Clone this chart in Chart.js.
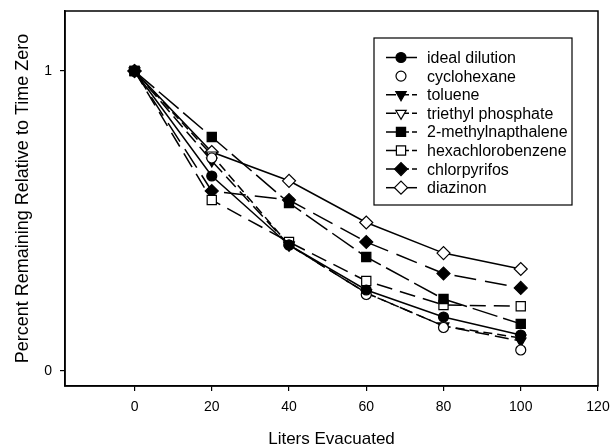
<!DOCTYPE html>
<html>
<head>
<meta charset="utf-8">
<script src="https://cdn.jsdelivr.net/npm/chart.js"></script>
<style>
html, body { margin: 0; padding: 0; background: #ffffff; }
#wrap { width: 611px; height: 447px; position: relative; }
</style>
</head>
<body>
<div id="wrap"><canvas id="chart" width="611" height="447"></canvas></div>
<script>
// Liters evacuated vs. fraction remaining
const liters = [0, 20, 40, 60, 80, 100];
const xTicks = [0, 20, 40, 60, 80, 100, 120];
const yTicks = [0, 1];

const seriesNames = ['ideal dilution', 'cyclohexane', 'toluene', 'triethyl phosphate',
    '2-methylnapthalene', 'hexachlorobenzene', 'chlorpyrifos', 'diazinon'];

const idealDilution = [1, 0.65, 0.42, 0.27, 0.18, 0.12];
const cyclohexane = [1, 0.71, 0.42, 0.255, 0.145, 0.07];
const toluene = [1, 0.70, 0.42, 0.26, 0.15, 0.10];
const triethylPhosphate = [1, 0.72, 0.42, 0.26, 0.15, 0.11];
const methylnapthalene = [1, 0.78, 0.56, 0.38, 0.24, 0.157];
const hexachlorobenzene = [1, 0.57, 0.43, 0.30, 0.22, 0.216];
const chlorpyrifos = [1, 0.60, 0.57, 0.43, 0.325, 0.277];
const diazinon = [1, 0.73, 0.634, 0.495, 0.393, 0.34];

const FONT = '"Liberation Sans", Arial, sans-serif';

// marker + line style per series
const styles = [
    { values: idealDilution, point: 'circle', fill: true, rot: 0, r: 5, dash: [], line: true },
    { values: cyclohexane, point: 'circle', fill: false, rot: 0, r: 5, dash: [], line: false },
    { values: toluene, point: 'triangle', fill: true, rot: 180, r: 6, dash: [14, 6], line: true },
    { values: triethylPhosphate, point: 'triangle', fill: false, rot: 180, r: 6, dash: [9, 5], line: true },
    { values: methylnapthalene, point: 'rect', fill: true, rot: 0, r: 6.5, dash: [26, 6], line: true },
    { values: hexachlorobenzene, point: 'rect', fill: false, rot: 0, r: 6.5, dash: [16, 8], line: true },
    { values: chlorpyrifos, point: 'rectRot', fill: true, rot: 0, r: 6.5, dash: [22, 9], line: true },
    { values: diazinon, point: 'rectRot', fill: false, rot: 0, r: 6.5, dash: [], line: true }
];

const datasets = styles.map((s, i) => ({
    label: seriesNames[i],
    data: liters.map((x, j) => ({ x: x, y: s.values[j] })),
    showLine: s.line,
    borderColor: '#000000',
    borderWidth: 1.5,
    borderDash: s.dash,
    pointStyle: s.point,
    pointRotation: s.rot,
    pointRadius: s.r,
    pointBorderWidth: 1.2,
    pointBorderColor: '#000000',
    pointBackgroundColor: s.fill ? '#000000' : '#ffffff',
    tension: 0
}));

// frame around plot area (top and right edges)
const framePlugin = {
    id: 'frame',
    afterDraw(chart) {
        const a = chart.chartArea;
        const ctx = chart.ctx;
        ctx.save();
        ctx.strokeStyle = '#000000';
        ctx.lineWidth = 1.5;
        ctx.strokeRect(a.left, a.top, a.right - a.left, a.bottom - a.top);
        ctx.restore();
    }
};

function drawMarker(ctx, s, x, y) {
    ctx.save();
    ctx.setLineDash([]);
    ctx.lineWidth = 1.2;
    ctx.strokeStyle = '#000000';
    ctx.fillStyle = s.fill ? '#000000' : '#ffffff';
    Chart.helpers.drawPoint(ctx, { pointStyle: s.point, rotation: s.rot, radius: s.r, borderWidth: 1.2 }, x, y);
    ctx.restore();
}

// legend box inside the plot
const legendPlugin = {
    id: 'insideLegend',
    afterDraw(chart) {
        const ctx = chart.ctx;
        const left = 374, top = 38, width = 198, height = 167;
        ctx.save();
        ctx.fillStyle = '#ffffff';
        ctx.fillRect(left, top, width, height);
        ctx.strokeStyle = '#000000';
        ctx.lineWidth = 1.2;
        ctx.strokeRect(left, top, width, height);
        ctx.font = '16px ' + FONT;
        ctx.textBaseline = 'middle';
        styles.forEach((s, i) => {
            const y = top + 19.5 + i * 18.6;
            if (s.line) {
                ctx.beginPath();
                ctx.setLineDash(s.dash.length ? [10, 3] : []);
                ctx.lineWidth = 1.5;
                ctx.moveTo(left + 12, y);
                ctx.lineTo(left + 43, y);
                ctx.stroke();
            }
            drawMarker(ctx, s, left + 27, y);
            ctx.fillStyle = '#000000';
            ctx.fillText(seriesNames[i], left + 53, y + 1);
        });
        ctx.restore();
    }
};

new Chart(document.getElementById('chart'), {
    type: 'scatter',
    data: { datasets: datasets },
    options: {
        responsive: false,
        animation: false,
        layout: { padding: { top: 11, right: 13, left: 0, bottom: 0 } },
        plugins: {
            legend: { display: false },
            tooltip: { enabled: false }
        },
        scales: {
            x: {
                type: 'linear',
                min: -18,
                max: 120,
                afterBuildTicks: (axis) => { axis.ticks = xTicks.map(v => ({ value: v })); },
                afterFit: (axis) => {
                    axis.height = 61;
                    axis.paddingLeft = 0;
                    axis.paddingRight = 0;
                },
                border: { display: true, color: '#000000', width: 1.5 },
                grid: { drawOnChartArea: false, drawTicks: true, tickLength: 5, color: '#000000', lineWidth: 1.2 },
                ticks: { color: '#000000', font: { family: FONT, size: 14 }, padding: 8, maxRotation: 0 },
                title: { display: true, text: 'Liters Evacuated', color: '#000000', font: { family: FONT, size: 17, lineHeight: 1 }, padding: { top: 0, bottom: -1 } }
            },
            y: {
                type: 'linear',
                min: -0.05,
                max: 1.2,
                afterBuildTicks: (axis) => { axis.ticks = yTicks.map(v => ({ value: v })); },
                afterFit: (axis) => {
                    axis.width = 65;
                    axis.paddingTop = 0;
                    axis.paddingBottom = 0;
                },
                border: { display: true, color: '#000000', width: 1.5 },
                grid: { drawOnChartArea: false, drawTicks: true, tickLength: 5, color: '#000000', lineWidth: 1.2 },
                ticks: { color: '#000000', font: { family: FONT, size: 14 }, padding: 8 },
                title: { display: true, text: 'Percent Remaining Relative to Time Zero', color: '#000000', font: { family: FONT, size: 18, lineHeight: 1 }, padding: { top: 14, bottom: 0 } }
            }
        }
    },
    plugins: [framePlugin, legendPlugin]
});
</script>
</body>
</html>
